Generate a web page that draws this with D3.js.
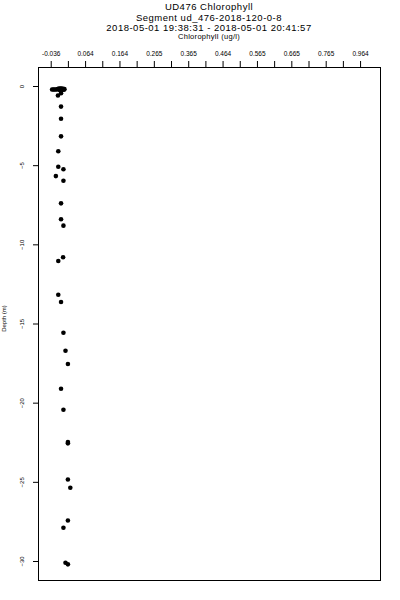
<!DOCTYPE html>
<html>
<head>
<meta charset="utf-8">
<script src="https://cdn.jsdelivr.net/npm/d3@7"></script>
<style>
  body { margin: 0; background: #fff; }
  svg text { font-family: "Liberation Sans", Arial, sans-serif; fill: #000; }
</style>
</head>
<body>
<svg width="400" height="600"></svg>
<script>
"use strict";

/* chart values */
var titleLines = ["UD476 Chlorophyll", "Segment ud_476-2018-120-0-8", "2018-05-01 19:38:31 - 2018-05-01 20:41:57"];
var xLabel = "Chlorophyll (ug/l)";
var yLabel = "Depth (m)";

var xTicks = [-0.036, 0.014, 0.064, 0.114, 0.164, 0.214, 0.264, 0.314, 0.364, 0.414,
              0.464, 0.514, 0.564, 0.614, 0.664, 0.714, 0.764, 0.814, 0.864];
var xTickLabels = ["-0.036", "", "0.064", "", "0.164", "", "0.265", "", "0.365", "",
                   "0.464", "", "0.565", "", "0.665", "", "0.765", "", "0.964"];
var yTicks = [0, -5, -10, -15, -20, -25, -30];

var xDomain = [-0.073, 0.922];
var yDomain = [1.2, -31.2];

var chl = [-0.032, -0.028, -0.024, -0.020, -0.016, -0.012, -0.008, -0.004, 0.000, 0.004,
           -0.010, -0.006, -0.002, 0.002, -0.006, -0.015, -0.006, -0.006, -0.006, -0.014,
           -0.014, 0.001, -0.021, 0.001, -0.006, -0.006, 0.001, 0.000, -0.014, -0.014,
           -0.006, 0.001, 0.007, 0.014, -0.006, 0.001, 0.014, 0.014, 0.014, 0.021,
           0.014, 0.001, 0.007, 0.014];
var depth = [-0.22, -0.22, -0.22, -0.22, -0.20, -0.16, -0.16, -0.16, -0.18, -0.20,
             -0.26, -0.26, -0.24, -0.24, -0.46, -0.60, -1.30, -2.07, -3.18, -4.12,
             -5.10, -5.26, -5.69, -5.98, -7.41, -8.42, -8.82, -10.82, -11.05, -13.18,
             -13.64, -15.58, -16.72, -17.56, -19.12, -20.45, -22.49, -22.57, -24.85, -25.37,
             -27.44, -27.90, -30.11, -30.21];

var svg = d3.select("svg"),
    margin = {top: 67, right: 20, bottom: 20, left: 38},
    width = +svg.attr("width") - margin.left - margin.right,
    height = +svg.attr("height") - margin.top - margin.bottom,
    g = svg.append("g").attr("transform", "translate(" + margin.left + "," + margin.top + ")");

var x = d3.scaleLinear().domain(xDomain).range([0, width]);
var y = d3.scaleLinear().domain(yDomain).range([0, height]);

var cx = margin.left + width / 2;

// titles
svg.append("g")
  .attr("text-anchor", "middle")
  .attr("font-size", "9.5px")
  .attr("letter-spacing", "0.5px")
  .selectAll("text")
  .data(titleLines)
  .enter().append("text")
    .attr("x", cx)
    .attr("y", function(d, i) { return 10 + i * 10.6; })
    .text(function(d) { return d; });

svg.append("text")
  .attr("x", cx)
  .attr("y", 39)
  .attr("text-anchor", "middle")
  .attr("font-size", "7.5px")
  .attr("letter-spacing", "0.3px")
  .text(xLabel);

// top axis
var xAxis = g.append("g")
  .call(d3.axisTop(x)
    .tickValues(xTicks)
    .tickFormat(function(d, i) { return xTickLabels[i]; })
    .tickSize(6)
    .tickPadding(5)
    .tickSizeOuter(0));
xAxis.select(".domain").remove();
xAxis.attr("font-family", null);
xAxis.selectAll("text").attr("font-size", "6.5px");

// left axis
var yAxis = g.append("g")
  .call(d3.axisLeft(y)
    .tickValues(yTicks)
    .tickSize(5)
    .tickSizeOuter(0));
yAxis.select(".domain").remove();
yAxis.attr("font-family", null);
yAxis.selectAll("text")
  .attr("x", null)
  .attr("dy", null)
  .attr("font-size", "6px")
  .attr("text-anchor", "middle")
  .attr("transform", "translate(-14,0) rotate(-90)");

svg.append("text")
  .attr("transform", "translate(6," + (margin.top + height / 2 - 5) + ") rotate(-90)")
  .attr("text-anchor", "middle")
  .attr("font-size", "6px")
  .text(yLabel);

// box
g.append("rect")
  .attr("x", 0)
  .attr("y", 0)
  .attr("width", width)
  .attr("height", height)
  .attr("fill", "none")
  .attr("stroke", "#000")
  .attr("stroke-width", 1)
  .attr("shape-rendering", "crispEdges");

// points
g.append("g")
  .selectAll("circle")
  .data(chl)
  .enter().append("circle")
    .attr("cx", function(d) { return x(d); })
    .attr("cy", function(d, i) { return y(depth[i]); })
    .attr("r", 2.3)
    .attr("fill", "#000");
</script>
</body>
</html>
